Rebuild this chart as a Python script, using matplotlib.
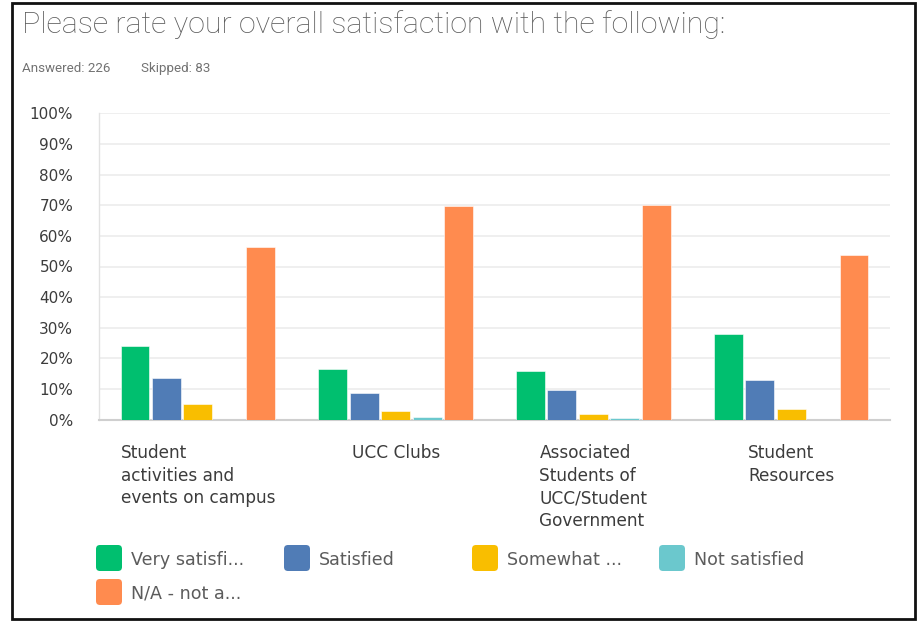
import matplotlib
matplotlib.use("Agg")
import matplotlib.pyplot as plt
from matplotlib.patches import FancyBboxPatch, Rectangle
import numpy as np

W, H = 919, 621

categories = [
    "Student\nactivities and\nevents on campus",
    "UCC Clubs",
    "Associated\nStudents of\nUCC/Student\nGovernment",
    "Student\nResources",
]
series_names = ["Very satisfi...", "Satisfied", "Somewhat ...", "Not satisfied", "N/A - not a..."]
very_satisfied = [23.9, 16.6, 16.0, 28.1]
satisfied = [13.5, 8.7, 9.7, 12.8]
somewhat = [5.0, 2.9, 1.7, 3.5]
not_satisfied = [0.0, 0.8, 0.5, 0.0]
not_applicable = [56.5, 69.7, 70.1, 53.8]
yticks = [0, 10, 20, 30, 40, 50, 60, 70, 80, 90, 100]
ytick_labels = [f"{t}%" for t in yticks]

colors = ["#00bf6f", "#507cb6", "#f9be00", "#6bc8cd", "#ff8b4f"]
series = [very_satisfied, satisfied, somewhat, not_satisfied, not_applicable]

FONT = "DejaVu Sans"

fig = plt.figure(figsize=(W / 100, H / 100), dpi=100)
fig.patch.set_facecolor("white")


def fx(px):
    return px / W


def fy(py):
    return 1 - py / H


# outer frame
fig.add_artist(Rectangle((fx(12), fy(619)), fx(915) - fx(12), fy(3) - fy(619),
                         transform=fig.transFigure, fill=False,
                         edgecolor="#111111", linewidth=2.0))

fig.text(fx(22), fy(33), "Please rate your overall satisfaction with the following:",
         fontsize=21.9, family="Roboto", fontweight="light", color="#5a5a5a",
         va="baseline", ha="left")
fig.text(fx(22), fy(72), "Answered: 226", fontsize=9.6, family="Roboto",
         color="#727272", va="baseline", ha="left")
fig.text(fx(141), fy(72), "Skipped: 83", fontsize=9.6, family="Roboto",
         color="#727272", va="baseline", ha="left")

ax = fig.add_axes([fx(99), fy(419.5), fx(890) - fx(99), (419.5 - 113.5) / H])
ax.set_xlim(0, len(categories))
ax.set_ylim(0, 100)

x = np.arange(len(categories)) + 0.5
step = 0.159
width = 0.146
for k, (vals, col) in enumerate(zip(series, colors)):
    ax.bar(x + (k - 2) * step, vals, width=width, color=col, zorder=3,
           edgecolor="white", linewidth=0.4)

ax.set_yticks(yticks)
ax.set_yticklabels(ytick_labels, family=FONT, fontsize=11, color="#3c3c3c")
ax.tick_params(axis="y", length=0, pad=18.5)
ax.set_xticks([])
ax.grid(axis="y", color="#ececec", linewidth=1.2, zorder=0)
for s in ["top", "right"]:
    ax.spines[s].set_visible(False)
ax.spines["left"].set_color("#e2e2e2")
ax.spines["left"].set_linewidth(1.0)
ax.spines["bottom"].set_color("#cfcfcf")
ax.spines["bottom"].set_linewidth(1.5)
ax.set_axisbelow(True)

# category labels below the groups: block centred on the group, lines left-aligned
for xi, cat in zip(x, categories):
    ax.text(xi, -8.0, cat, ha="center", va="top", multialignment="left",
            family=FONT, fontsize=12.2, color="#3c3c3c", linespacing=1.33,
            transform=ax.transData, clip_on=False)

# legend with rounded swatches
legend_pos = [(96, 545), (284, 545), (472, 545), (659, 545), (96, 579)]
for (lx, ly), name, col in zip(legend_pos, series_names, colors):
    fig.add_artist(FancyBboxPatch((fx(lx + 3), fy(ly + 23)), fx(20), (20) / H,
                                  boxstyle=f"round,pad={3 / W},rounding_size={4 / W}",
                                  transform=fig.transFigure, facecolor=col,
                                  edgecolor="none", mutation_aspect=W / H))
    fig.text(fx(lx + 35), fy(ly + 15), name, family=FONT, fontsize=12.6,
             color="#5c5c5c", va="center", ha="left")

fig.savefig("out.png", dpi=100, facecolor="white")
